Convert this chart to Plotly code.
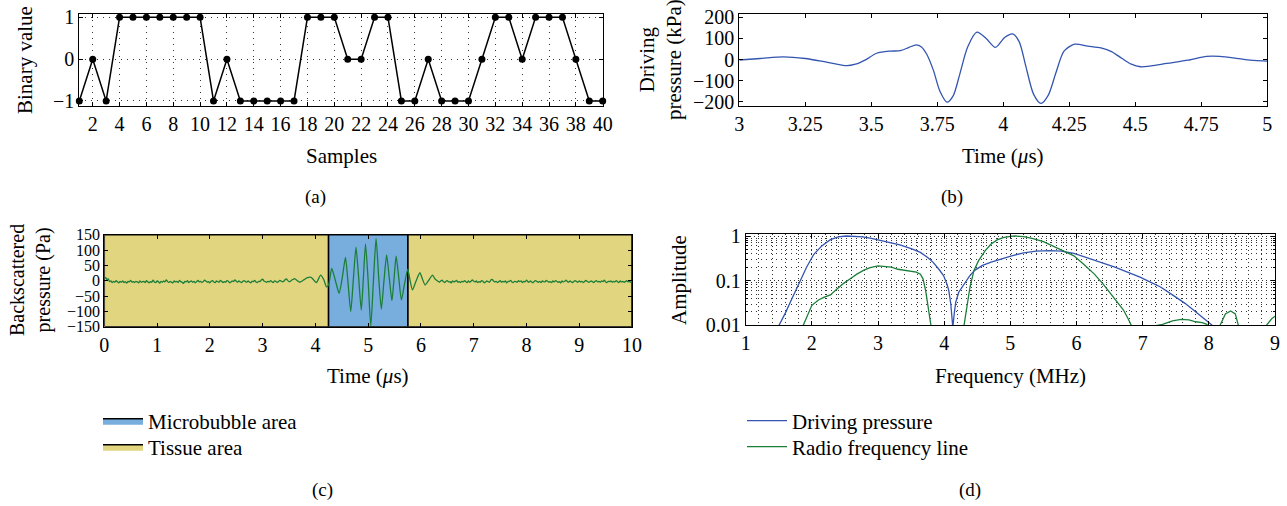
import numpy as np
import plotly.graph_objects as go

W, H = 1287, 506
SERIF = "Liberation Serif"

# ---------------- data ----------------
# (a) binary sequence
samples = list(range(1, 41))
binary_values = [-1, 0, -1, 1, 1, 1, 1, 1, 1, 1,
                 -1, 0, -1, -1, -1, -1, -1, 1, 1, 1,
                 0, 0, 1, 1, -1, -1, 0, -1, -1, -1,
                 0, 1, 1, 0, 1, 1, 1, 0, -1, -1]

# (b) driving pressure (kPa) vs time (us)
drive_time = [3.0, 3.08, 3.166, 3.25, 3.33, 3.407, 3.44, 3.48, 3.52, 3.571, 3.61, 3.643,
              3.67, 3.69, 3.71, 3.735, 3.76, 3.787, 3.81, 3.835, 3.865, 3.90, 3.935, 3.97,
              4.005, 4.035, 4.06, 4.085, 4.115, 4.143, 4.17, 4.20, 4.23, 4.27, 4.32, 4.37,
              4.41, 4.45, 4.485, 4.52, 4.56, 4.62, 4.70, 4.77, 4.82, 4.90, 4.95, 5.0]
drive_kpa = [-2, 5, 13, 5, -12, -29, -22, 0, 30, 40, 42, 58,
             70, 60, 25, -50, -150, -202, -172, -70, 60, 130, 100, 58,
             105, 122, 85, -30, -165, -208, -170, -60, 40, 73, 64, 55,
             38, 5, -22, -34, -30, -18, -3, 15, 15, 3, -4, -7]

# (c) backscattered pressure (Pa) vs time (us)
noise_start = [8, 10, 4, 6, -3, -1, -6, -2, -5, 0, -4, -7, -2, -5, -1, -6, -3, -8, -2, -4,
               1, -5, -3, -6, -2, -4, -7, -1, -5, -3, -2, -6, 0, -4, -7, -3, -5, 2, -4, -6,
               -1, -3, -8, -2, -5, -1, -4, 3, -3, -6, -2, -5, -7, -1, -4, -2, -6, 1, -3, -5,
               -9, -2, -4, 0, -6, -3, -1, -5, -2, -7, -3, 1, -4, -2, -6, -3, 2, -1, -5, -3,
               -7, -2, 0, -4, -6, -1, -3, -5, 1, -2, -6, -3, -5, 0, -2, -7, -4, -1, -3, 3,
               -2, -5, -1, -4, -6, -2, 0, -3, -5, -1, -4, -7, -2, -3, 1, -4, -6, -2, -3, 2,
               5, -1, -3, -5, -2, -4, 0, -3, -6, -1, -2, -5, -3, 1, -1, -4, -2, 3, 6, 1,
               -3, -2, 2, 4, 7, 5, 1, -2, -5, -3, -1, 2, 5, 8, 10]
burst_time = [3.92, 3.97, 4.02, 4.10, 4.16, 4.21, 4.25, 4.31, 4.38, 4.45, 4.51, 4.57, 4.62,
              4.67, 4.72, 4.77, 4.82, 4.87, 4.91, 4.95, 5.00, 5.05, 5.10, 5.15, 5.20, 5.25,
              5.30, 5.35, 5.40, 5.45, 5.49, 5.53, 5.58, 5.63, 5.69, 5.75, 5.79, 5.84, 5.91,
              5.98, 6.03, 6.08, 6.15, 6.22, 6.27]
burst_pa = [11, 2, -6, 18, 3, -20, -14, 40, 0, -41, 10, 76, -10,
            -101, 5, 109, 10, -96, 10, 120, 0, -148, 0, 138, 10, -93,
            0, 84, 10, -65, 5, 80, 10, -63, -10, 38, 5, -30, 0,
            26, 5, -14, 2, 18, 5]
noise_end = [-2, -5, -1, 2, -3, -6, -2, 0, -4, -3, -7, -1, -4, -2, 1, -5, -3, -6, -2, -4,
             0, -3, -6, -1, -5, -2, 3, -2, -4, -1, -6, -3, -5, 0, -2, -7, -4, -1, -3, -5,
             2, 4, -1, -4, -2, -6, -3, 0, -5, -2, -4, -1, -7, -3, -2, 1, -4, -6, -2, -3,
             -5, 0, -3, -1, -6, -2, -4, 2, -3, -5, -1, -4, -7, -2, 0, -3, -5, -2, -6, -1,
             -3, -4, 1, -2, -5, -3, -6, -1, -4, 0, -2, -5, -3, -7, -1, -4, -2, 2, -3, -5,
             -1, -4, -6, -2, 0, -3, -5, -1, -4, -2, -6, -3, 1, -2, -5, -4, -1, -3, -6, -2,
             0, -4, -2, -5, -1, -3, 2, -4, -6, -2, -3, -1, -5, -2, -4, 0, -3, -6, -1, -4,
             -2, -5, -3, 0, -4, -2, -5, -3]
microbubble_span = [4.25, 5.75]
time_span = [0, 10]
pressure_span = [-150, 150]

# (d) spectra
drive_freq = [1.40, 1.51, 1.6, 1.7, 1.82, 1.92, 2.03, 2.15, 2.28, 2.4, 2.52, 2.65, 2.77, 2.9,
              3.02, 3.18, 3.33, 3.5, 3.64, 3.75, 3.83, 3.92, 3.99, 4.04, 4.07, 4.1, 4.13,
              4.155, 4.175, 4.22, 4.3, 4.38, 4.46, 4.58, 4.71, 4.86, 5.02, 5.2, 5.39, 5.6,
              5.77, 5.96, 6.1, 6.27, 6.42, 6.58, 6.77, 6.96, 7.1, 7.27, 7.45, 7.64, 7.8,
              7.96, 8.05, 8.2]
drive_amp = [0.005, 0.01, 0.019, 0.04, 0.1, 0.2, 0.39, 0.6, 0.83, 0.96, 1.0, 0.99, 0.96, 0.89,
             0.81, 0.72, 0.63, 0.52, 0.43, 0.33, 0.26, 0.18, 0.13, 0.085, 0.06, 0.03, 0.009,
             0.02, 0.033, 0.055, 0.085, 0.125, 0.17, 0.22, 0.26, 0.31, 0.36, 0.42, 0.46, 0.47,
             0.46, 0.41, 0.35, 0.29, 0.24, 0.2, 0.155, 0.12, 0.095, 0.072, 0.048, 0.031, 0.02,
             0.013, 0.01, 0.006]
rf_freq = [1.80, 1.87, 2.0, 2.1, 2.18, 2.28, 2.38, 2.48, 2.58, 2.68, 2.78, 2.88, 3.0, 3.1,
           3.2, 3.3, 3.4, 3.5, 3.58, 3.64, 3.68, 3.72, 3.76, 3.80, 3.84, 4.05, 4.26, 4.30,
           4.35, 4.39, 4.45, 4.52, 4.62, 4.71, 4.80, 4.89, 5.0, 5.08, 5.2, 5.33, 5.5, 5.64,
           5.8, 5.96, 6.1, 6.27, 6.4, 6.52, 6.62, 6.71, 6.78, 6.83, 6.9, 7.05, 7.2, 7.3,
           7.45, 7.58, 7.7, 7.8, 7.9, 7.97, 8.05, 8.12, 8.17, 8.25, 8.33, 8.40, 8.45, 8.5,
           8.8, 8.87, 8.95, 9.0]
rf_amp = [0.005, 0.01, 0.028, 0.037, 0.042, 0.048, 0.065, 0.087, 0.11, 0.14, 0.17, 0.195, 0.215, 0.21,
          0.2, 0.18, 0.17, 0.165, 0.155, 0.14, 0.11, 0.06, 0.025, 0.01, 0.004, 0.0005, 0.004, 0.01,
          0.035, 0.072, 0.17, 0.28, 0.47, 0.66, 0.82, 0.92, 0.98, 1.0, 0.97, 0.89, 0.75, 0.6,
          0.47, 0.36, 0.24, 0.14, 0.085, 0.051, 0.033, 0.022, 0.014, 0.01, 0.006, 0.007, 0.0098, 0.0105,
          0.0125, 0.0136, 0.0132, 0.012, 0.0115, 0.0105, 0.006, 0.006, 0.01, 0.018, 0.021, 0.018, 0.01, 0.005,
          0.005, 0.01, 0.014, 0.016]

# ---------------- helpers ----------------
def px(x):
    return x / W

def py(y):
    return 1 - y / H

BLUE_LINE = "#3355B0"
GREEN_LINE = "#1B7F3A"
BLUE_FILL = "#78AEDD"
YELLOW_FILL = "#E2D57F"
GRID = "#333333"

TICK = 20
TITLE = 21
tickfont = dict(family=SERIF, size=TICK, color="black")

def axis(**kw):
    d = dict(showline=True, linecolor="black", linewidth=1, mirror="ticks",
             ticks="inside", ticklen=4, tickcolor="black", tickfont=tickfont,
             zeroline=False, showgrid=False, automargin=False)
    d.update(kw)
    return d

fig = go.Figure()

# (a)
fig.add_trace(go.Scatter(x=samples, y=binary_values, mode="lines+markers",
                         line=dict(color="black", width=1.5),
                         marker=dict(color="black", size=7),
                         xaxis="x", yaxis="y", showlegend=False, cliponaxis=False))

# (b)
fig.add_trace(go.Scatter(x=drive_time, y=drive_kpa, mode="lines",
                         line=dict(color=BLUE_LINE, width=1.3, shape="spline", smoothing=0.8),
                         xaxis="x2", yaxis="y2", showlegend=False))

# (c) background areas
lo, hi = pressure_span
t0, t1 = time_span
m0, m1 = microbubble_span
fig.add_trace(go.Scatter(x=[t0, m0, m0, t0, t0, None, m1, t1, t1, m1, m1],
                         y=[lo, lo, hi, hi, lo, None, lo, lo, hi, hi, lo],
                         fill="toself", fillcolor=YELLOW_FILL, mode="lines",
                         line=dict(color="black", width=1.5),
                         name="Tissue area", legend="legend2",
                         xaxis="x3", yaxis="y3", hoverinfo="skip"))
fig.add_trace(go.Scatter(x=[m0, m1, m1, m0, m0], y=[lo, lo, hi, hi, lo],
                         fill="toself", fillcolor=BLUE_FILL, mode="lines",
                         line=dict(color="black", width=1.5),
                         name="Microbubble area", legend="legend",
                         xaxis="x3", yaxis="y3", hoverinfo="skip"))
bs_time = list(np.linspace(0, 3.85, len(noise_start))) + burst_time + \
    list(np.linspace(6.325, 10, len(noise_end)))
bs_pa = noise_start + burst_pa + noise_end
fig.add_trace(go.Scatter(x=bs_time, y=bs_pa, mode="lines",
                         line=dict(color=GREEN_LINE, width=1.3, shape="spline", smoothing=0.6),
                         xaxis="x3", yaxis="y3", showlegend=False))

# (d)
fig.add_trace(go.Scatter(x=drive_freq, y=drive_amp, mode="lines",
                         line=dict(color=BLUE_LINE, width=1.3),
                         name="Driving pressure", legend="legend3",
                         xaxis="x4", yaxis="y4"))
fig.add_trace(go.Scatter(x=rf_freq, y=rf_amp, mode="lines",
                         line=dict(color=GREEN_LINE, width=1.3),
                         name="Radio frequency line", legend="legend4",
                         xaxis="x4", yaxis="y4"))

griddot = "1px,5px"

def leg(x, y):
    return dict(x=px(x), y=py(y), xanchor="left", yanchor="middle",
                font=dict(family=SERIF, size=21, color="black"),
                bgcolor="rgba(0,0,0,0)", itemwidth=40, borderwidth=0)

layout = dict(
    template="none",
    width=W, height=H, margin=dict(l=0, r=0, t=0, b=0, pad=0, autoexpand=False),
    paper_bgcolor="white", plot_bgcolor="white",
    font=dict(family=SERIF, size=TICK, color="black"),
    xaxis=axis(domain=[px(79.3), px(602.7)], range=[1, 40], tickvals=list(range(2, 41, 2)),
               showgrid=True, gridcolor=GRID, gridwidth=1, griddash=griddot, anchor="y"),
    yaxis=axis(domain=[py(106), py(14)], range=[-1.12, 1.08], tickvals=[-1, 0, 1],
               showgrid=True, gridcolor=GRID, gridwidth=1, griddash=griddot, anchor="x"),
    xaxis2=axis(domain=[px(739.3), px(1267.3)], range=[3, 5],
                tickvals=[3, 3.25, 3.5, 3.75, 4, 4.25, 4.5, 4.75, 5],
                ticktext=["3", "3.25", "3.5", "3.75", "4", "4.25", "4.5", "4.75", "5"], anchor="y2"),
    yaxis2=axis(domain=[py(106), py(14)], range=[-220, 216],
                tickvals=[-200, -100, 0, 100, 200], anchor="x2"),
    xaxis3=axis(domain=[px(104.3), px(632)], range=[0, 10], tickvals=list(range(0, 11)), anchor="y3"),
    yaxis3=axis(domain=[py(326.7), py(234.7)], range=[-150, 150],
                tickvals=[-150, -100, -50, 0, 50, 100, 150], anchor="x3",
                tickfont=dict(family=SERIF, size=16, color="black")),
    xaxis4=axis(domain=[px(745.7), px(1275)], range=[1, 9], tickvals=list(range(1, 10)),
                showgrid=True, gridcolor=GRID, gridwidth=1, griddash="1px,3px",
                minor=dict(dtick=0.2, showgrid=True, gridcolor=GRID, gridwidth=1, griddash="1px,3px"),
                anchor="y4"),
    yaxis4=axis(domain=[py(325.3), py(234)], type="log", range=[-2, 0.045],
                tickvals=[0.01, 0.1, 1], ticktext=["0.01", "0.1", "1"],
                showgrid=True, gridcolor=GRID, gridwidth=1, griddash="1px,3px",
                minor=dict(tickvals=[0.02, 0.03, 0.04, 0.05, 0.06, 0.07, 0.08, 0.09,
                                     0.2, 0.3, 0.4, 0.5, 0.6, 0.7, 0.8, 0.9],
                           ticks="inside", ticklen=2, tickcolor="black",
                           showgrid=True, gridcolor=GRID, gridwidth=1, griddash="1px,4px"),
                anchor="x4"),
    legend=leg(98, 421),
    legend2=leg(98, 447),
    legend3=leg(742, 421),
    legend4=leg(742, 447),
)
fig.update_layout(**layout)

def note(text, x, y, angle=0, size=TITLE):
    fig.add_annotation(text=text, x=px(x), y=py(y), xref="paper", yref="paper",
                       showarrow=False, textangle=angle, xanchor="center", yanchor="middle",
                       font=dict(family=SERIF, size=size, color="black"))

note("Binary value", 25, 60, -90)
note("Samples", 341, 156)
note("(a)", 315, 197, size=19)
note("Driving<br>pressure (kPa)", 661, 60, -90)
note("Time (<i>μ</i>s)", 1003, 156)
note("(b)", 952, 197, size=19)
note("Backscattered<br>pressure (Pa)", 30, 280, -90, size=20)
note("Time (<i>μ</i>s)", 368, 376)
note("(c)", 322, 490, size=19)
note("Amplitude", 679, 280, -90)
note("Frequency (MHz)", 1010, 376)
note("(d)", 970, 490, size=19)

fig.write_html("out.html", config={"displayModeBar": False},
               post_script="document.body.style.margin='0px';document.body.style.overflow='hidden';")
